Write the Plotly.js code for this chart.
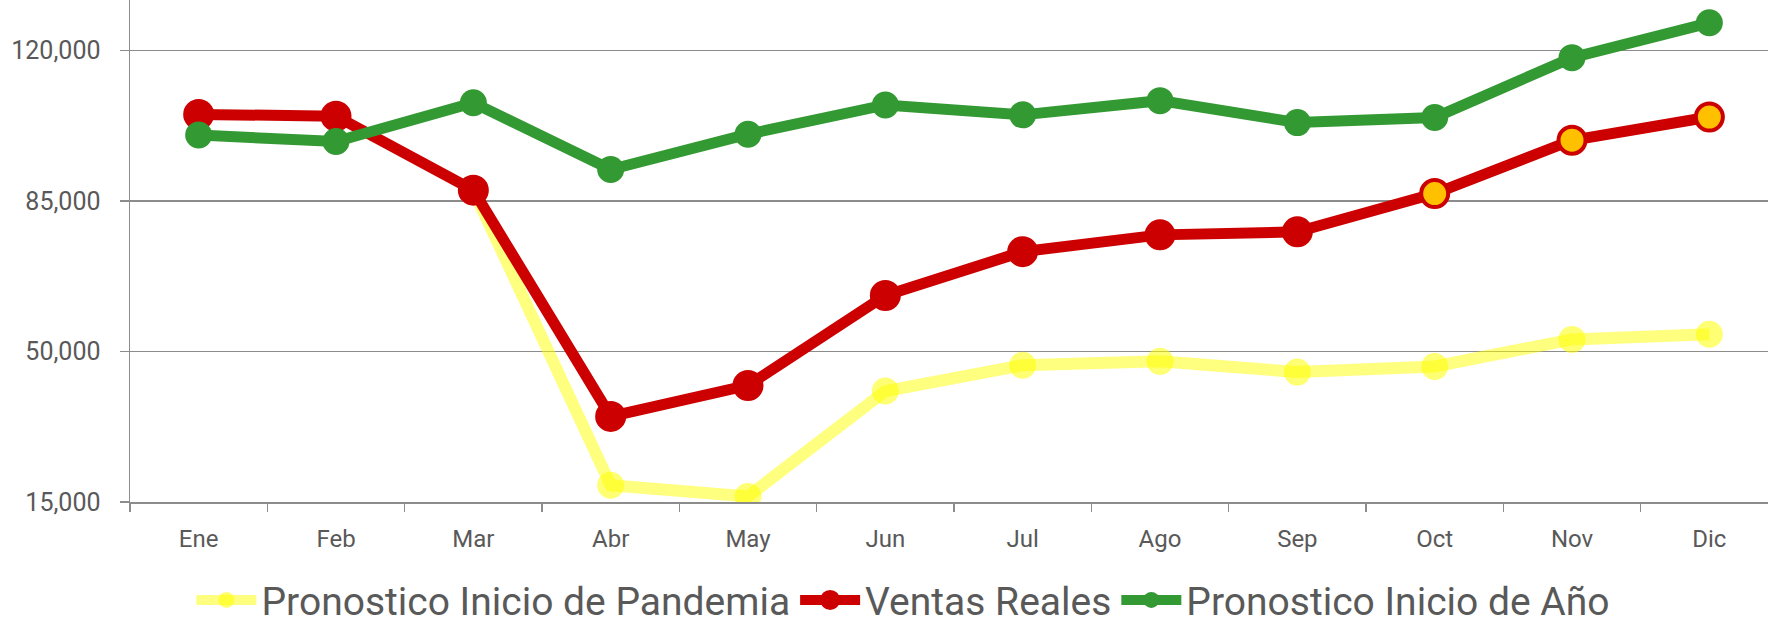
<!DOCTYPE html>
<html>
<head>
<meta charset="utf-8">
<script src="https://cdn.plot.ly/plotly-3.0.1.min.js"></script>
<style>
  html, body { margin: 0; padding: 0; background: #ffffff; }
  #chart { width: 1768px; height: 627px; }
</style>
</head>
<body>
<div id="chart"></div>
<script>
// ---- data ----
var months = ['Ene', 'Feb', 'Mar', 'Abr', 'May', 'Jun', 'Jul', 'Ago', 'Sep', 'Oct', 'Nov', 'Dic'];
var pronosticoPandemia = [null, null, 87500, 18900, 16300, 40800, 46800, 47700, 45200, 46500, 52800, 54000];
var ventasReales = [105100, 104700, 87500, 34900, 42100, 63000, 73200, 77100, 77800, 86700, 99100, 104500];
var pronosticoInicioAnio = [100300, 98800, 107800, 92300, 100500, 107300, 105000, 108300, 103200, 104400, 118300, 126400];
var yTickVals = [15000, 50000, 85000, 120000];
var yTickText = ['15,000', '50,000', '85,000', '120,000'];
var seriesNames = ['Pronostico Inicio de Pandemia', 'Ventas Reales', 'Pronostico Inicio de Año'];

// ---- styles ----
var RED = '#CC0000', GREEN = '#339933', HILITE = '#FFC000';
var YEL_LINE = 'rgba(255,255,0,0.5)', YEL_MARK = 'rgba(255,255,0,0.55)';
var redFill = months.map(function (m, i) { return i >= 9 ? HILITE : RED; });

var traces = [
  {
    x: months, y: pronosticoPandemia, name: seriesNames[0],
    type: 'scatter', mode: 'lines+markers',
    line: { color: YEL_LINE, width: 12 },
    marker: { color: YEL_MARK, size: 27, line: { width: 0 } },
    hoverinfo: 'x+y'
  },
  {
    x: months, y: ventasReales, name: seriesNames[1],
    type: 'scatter', mode: 'lines+markers',
    line: { color: RED, width: 11 },
    marker: { color: redFill, size: 27, line: { color: RED, width: 4 } },
    hoverinfo: 'x+y'
  },
  {
    x: months, y: pronosticoInicioAnio, name: seriesNames[2],
    type: 'scatter', mode: 'lines+markers',
    line: { color: GREEN, width: 11 },
    marker: { color: GREEN, size: 27, line: { width: 0 } },
    hoverinfo: 'x+y'
  }
];

var FONT = 'Roboto, "Liberation Sans", sans-serif';
var TXT = '#595959';
var AX = '#8c8c8c';

var layout = {
  width: 1768, height: 627,
  margin: { l: 130, r: 0, t: 0, b: 125, pad: 0 },
  paper_bgcolor: '#ffffff', plot_bgcolor: '#ffffff',
  font: { family: FONT, color: TXT },
  showlegend: true,
  xaxis: {
    type: 'category',
    range: [-0.5, 11.427],
    showgrid: false,
    zeroline: false,
    showline: true, linecolor: AX, linewidth: 1.5,
    ticks: 'outside', ticklen: 8, tickcolor: AX, tickwidth: 1.5,
    tickson: 'boundaries',
    ticklabelstandoff: 15,
    tickfont: { family: FONT, size: 24, color: TXT }
  },
  yaxis: {
    range: [15000, 131700],
    tickmode: 'array', tickvals: yTickVals, ticktext: yTickText,
    showgrid: true, gridcolor: AX, gridwidth: 1.5,
    zeroline: false,
    showline: true, linecolor: AX, linewidth: 1.5,
    ticks: 'outside', ticklen: 9, tickcolor: AX, tickwidth: 1.5,
    ticklabelstandoff: 14,
    tickfont: { family: FONT, size: 25, color: TXT }
  },
  legend: {
    orientation: 'h',
    xref: 'container', yref: 'container',
    x: 0.511, xanchor: 'center',
    y: 0.043, yanchor: 'middle',
    font: { family: FONT, size: 39, color: TXT },
    bgcolor: 'rgba(0,0,0,0)',
    itemsizing: 'trace',
    itemwidth: 60
  }
};

Plotly.newPlot('chart', traces, layout, { displayModeBar: false, staticPlot: true });
</script>
</body>
</html>
